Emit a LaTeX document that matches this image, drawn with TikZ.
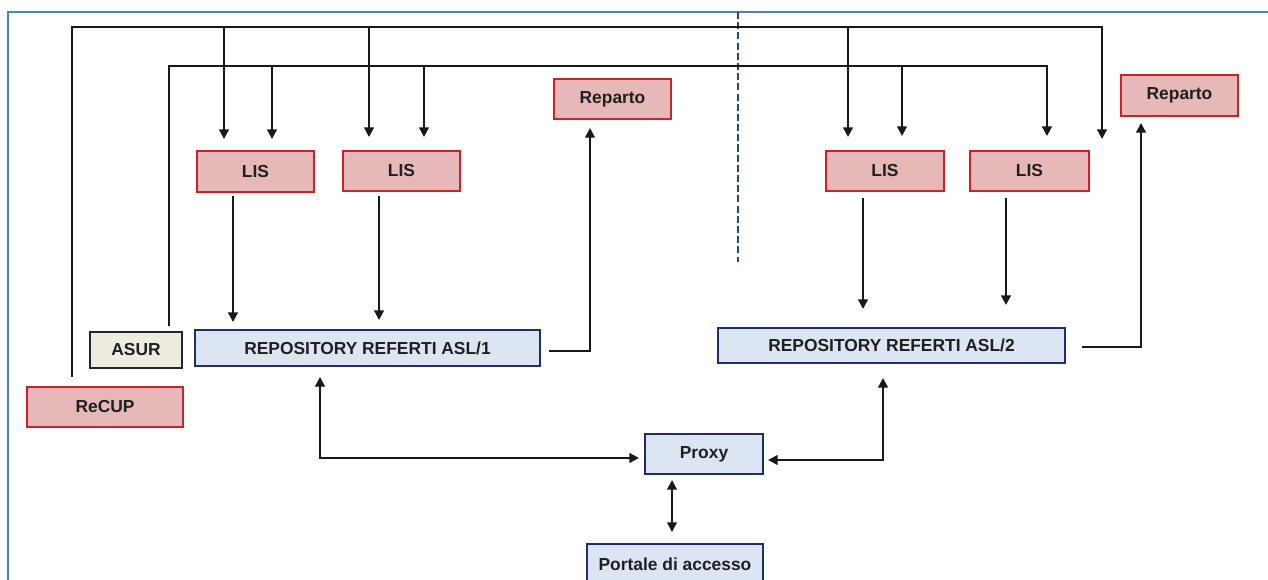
\documentclass[tikz,border=0pt]{standalone}
\usepackage{fontspec}
\setmainfont{Liberation Sans}
\usetikzlibrary{arrows.meta,calc}

\definecolor{pinkfill}{RGB}{230,185,184}
\definecolor{boxred}{RGB}{204,32,44}
\definecolor{bluefill}{RGB}{220,230,242}
\definecolor{navy}{RGB}{36,44,112}
\definecolor{beige}{RGB}{238,236,225}
\definecolor{framecol}{RGB}{79,129,189}
\definecolor{divcol}{RGB}{40,70,120}

\begin{document}
\begin{tikzpicture}[x=0.02cm,y=-0.02cm,
  every node/.style={font=\bfseries\fontsize{9.9}{12}\selectfont, text=black!88, inner sep=0pt},
  wd/.style={minimum width=#1*0.02cm},
  ht/.style={minimum height=#1*0.02cm},
  sa/.style={shorten <=#1*0.02cm},
  sb/.style={shorten >=#1*0.02cm},
  redbox/.style={draw=boxred, fill=pinkfill, line width=1.1pt},
  bluebox/.style={draw=navy, fill=bluefill, line width=1.1pt},
  asurbox/.style={draw=black!85, fill=beige, line width=1.1pt},
  conn/.style={line width=1.2pt, draw=black!90},
  arr/.style={conn, -{Triangle[length=5.5pt,width=5.5pt]}},
  darr/.style={conn, {Triangle[length=5.5pt,width=5.5pt]}-{Triangle[length=5.5pt,width=5.5pt]}},
  frameline/.style={draw=framecol, line width=1.2pt},
  divider/.style={draw=divcol, line width=1pt, dash pattern=on 4pt off 1.8pt},
]
\useasboundingbox (0,0) rectangle (1268,579);
\begin{scope}
\clip (0,0) rectangle (1268,579);

% page frame and the dividing line between the two ASL
\draw[frameline] (1280,12) -- (8,12) -- (8,600);
\draw[divider] (738,12) -- (738,262);

% boxes
\node[redbox, wd=156, ht=40] (recup) at (105,407) {ReCUP};
\node[asurbox, wd=92, ht=36] (asur) at (136,350) {ASUR};
\node[bluebox, wd=345, ht=36] (repo1) at (367.5,348) {REPOSITORY REFERTI ASL/1};
\node[bluebox, wd=347, ht=35] (repo2) at (891.5,345.5) {REPOSITORY REFERTI ASL/2};
\node[redbox, wd=117, ht=41] (lis1) at (255.5,171.5) {LIS};
\node[redbox, wd=117, ht=40] (lis2) at (401.5,171) {LIS};
\node[redbox, wd=118, ht=40] (lis3) at (885,171) {LIS};
\node[redbox, wd=119, ht=40] (lis4) at (1029.5,171) {LIS};
\node[redbox, wd=117, ht=40] (rep1) at (612.5,99) {Reparto};
\node[redbox, wd=117, ht=41] (rep2) at (1179.5,95.5) {Reparto};
\node[bluebox, wd=118, ht=40] (proxy) at (704,454) {Proxy};
\node[bluebox, wd=176, ht=40] (portal) at (675,564) {Portale di accesso};

% ReCUP bus
\coordinate (r1) at (72,27);
\coordinate (r2) at (1102,27);
\draw[arr, sa=9, sb=11] (recup.north -| r1) -- (r1) -- (r2) -- (r2 |- lis4.north);
\draw[arr, sb=11] (224,27) -- (224,27 |- lis1.north);
\draw[arr, sb=13] (369,27) -- (369,27 |- lis2.north);
\draw[arr, sb=13] (848,27) -- (848,27 |- lis3.north);

% ASUR bus
\coordinate (a1) at (169,66);
\coordinate (a2) at (1047,66);
\draw[arr, sa=5, sb=14] (asur.north -| a1) -- (a1) -- (a2) -- (a2 |- lis4.north);
\draw[arr, sb=11] (272,66) -- (272,66 |- lis1.north);
\draw[arr, sb=13] (424,66) -- (424,66 |- lis2.north);
\draw[arr, sb=14] (902,66) -- (902,66 |- lis3.north);

% LIS to repositories
\draw[arr, sa=3, sb=7] (233,0 |- lis1.south) -- (233,0 |- repo1.north);
\draw[arr, sa=4, sb=9] (379,0 |- lis2.south) -- (379,0 |- repo1.north);
\draw[arr, sa=6, sb=18] (863,0 |- lis3.south) -- (863,0 |- repo2.north);
\draw[arr, sa=6, sb=22] (1006,0 |- lis4.south) -- (1006,0 |- repo2.north);

% repositories to Reparto
\draw[arr, sa=8, sb=8] (repo1.east |- 0,351) -- (590,351) -- (590,351 |- rep1.south);
\draw[arr, sa=16, sb=6] (repo2.east |- 0,347) -- (1141,347) -- (1141,347 |- rep2.south);

% repositories, Proxy and portal
\draw[darr, sa=10, sb=5] (320,0 |- repo1.south) -- (320,458) -- (proxy.west |- 0,458);
\draw[darr, sa=4, sb=14] (proxy.east |- 0,460) -- (883,460) -- (883,0 |- repo2.south);
\draw[darr, sa=5, sb=11] (672,0 |- proxy.south) -- (672,0 |- portal.north);
\end{scope}
\end{tikzpicture}
\end{document}
